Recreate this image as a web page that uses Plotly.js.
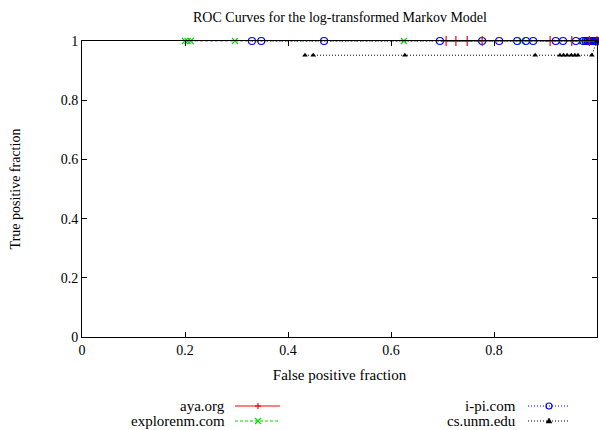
<!DOCTYPE html>
<html><head><meta charset="utf-8">
<script src="https://cdn.plot.ly/plotly-3.0.1.min.js"></script>
<style>html,body{margin:0;padding:0;background:#fff}</style>
</head><body>
<div id="chart" style="width:599px;height:430px"></div>
<script>
// Data
var ayaX = [0.707, 0.726, 0.748, 0.777, 0.909, 0.951, 0.985, 1.0];
var ayaY = [1, 1, 1, 1, 1, 1, 1, 1];
var exploreX = [0.200, 0.205, 0.211, 0.297, 0.625, 0.854, 0.971, 0.982, 0.991, 1.0];
var exploreY = [1, 1, 1, 1, 1, 1, 1, 1, 1, 1];
var ipiX = [0.330, 0.348, 0.470, 0.695, 0.777, 0.810, 0.845, 0.862, 0.876, 0.920, 0.934, 0.959, 0.973, 0.978, 0.982, 0.985, 0.988, 0.990, 0.992, 0.994, 0.996, 0.998, 1.0];
var ipiY = [1, 1, 1, 1, 1, 1, 1, 1, 1, 1, 1, 1, 1, 1, 1, 1, 1, 1, 1, 1, 1, 1, 1];
var csX = [0.433, 0.449, 0.627, 0.880, 0.928, 0.935, 0.942, 0.950, 0.957, 0.963, 0.990, 1.0];
var csY = [0.952, 0.952, 0.952, 0.952, 0.952, 0.952, 0.952, 0.952, 0.952, 0.952, 0.952, 1.0];
var seriesNames = ['aya.org', 'explorenm.com', 'i-pi.com', 'cs.unm.edu'];
var tickVals = [0, 0.2, 0.4, 0.6, 0.8, 1];
var tickText = ['0', '0.2', '0.4', '0.6', '0.8', '1'];

var FONT = '"Liberation Serif"';
var FS = 14;
var L = 82, R = 597, T = 41, B = 337;
function px2x(p){ return (p - L) / (R - L); }
function px2y(p){ return (B - p) / (B - T); }

var traces = [
  {x: exploreX, y: exploreY, name: seriesNames[1], mode: 'lines+markers', cliponaxis: false,
   line: {color: '#00dd00', width: 1, dash: '3px,2px'},
   marker: {symbol: 'x-thin-open', size: 6, color: '#00dd00', line: {color: '#00dd00', width: 1.2}}},
  {x: ipiX, y: ipiY, name: seriesNames[2], mode: 'lines+markers', cliponaxis: false,
   line: {color: '#0000ff', width: 1, dash: '1px,2px'},
   marker: {symbol: 'circle-open', size: 7, color: '#0000ff', line: {color: '#0000ff', width: 1.2}}},
  {x: ayaX, y: ayaY, name: seriesNames[0], mode: 'lines+markers', cliponaxis: false,
   line: {color: '#ff0000', width: 1},
   marker: {symbol: 'cross-thin-open', size: 7, color: '#ff0000', line: {color: '#ff0000', width: 1.2}}},
  {x: csX, y: csY, name: seriesNames[3], mode: 'lines+markers', cliponaxis: false,
   line: {color: '#000000', width: 1, dash: '1px,2px'},
   marker: {symbol: 'triangle-up', size: 5, color: '#000000'}}
];

// custom gnuplot-style legend (text left, sample right)
var shapes = [], annotations = [];
var rows = [
  {name: seriesNames[0], tx: 227, l0: 235, l1: 280, m: 258, y: 406, color: '#ff0000', dash: 'solid', sym: 'plus'},
  {name: seriesNames[1], tx: 227, l0: 235, l1: 280, m: 258, y: 421, color: '#00dd00', dash: '3px,2px', sym: 'x'},
  {name: seriesNames[2], tx: 518, l0: 528, l1: 570, m: 549, y: 406, color: '#0000ff', dash: '1px,2px', sym: 'circle'},
  {name: seriesNames[3], tx: 518, l0: 528, l1: 570, m: 549, y: 421, color: '#000000', dash: '1px,2px', sym: 'tri'}
];
rows.forEach(function(r){
  annotations.push({xref: 'paper', yref: 'paper', x: px2x(r.tx), y: px2y(r.y), xanchor: 'right', yanchor: 'middle',
    text: r.name, showarrow: false, font: {family: FONT, size: 15, color: '#000'}});
  shapes.push({type: 'line', xref: 'paper', yref: 'paper', x0: px2x(r.l0), x1: px2x(r.l1), y0: px2y(r.y), y1: px2y(r.y),
    line: {color: r.color, width: 1, dash: r.dash}});
  var s = 3;
  if (r.sym === 'plus') {
    shapes.push({type: 'line', xref: 'paper', yref: 'paper', x0: px2x(r.m), x1: px2x(r.m), y0: px2y(r.y - s), y1: px2y(r.y + s), line: {color: r.color, width: 1.2}});
    shapes.push({type: 'line', xref: 'paper', yref: 'paper', x0: px2x(r.m - s), x1: px2x(r.m + s), y0: px2y(r.y), y1: px2y(r.y), line: {color: r.color, width: 1.2}});
  } else if (r.sym === 'x') {
    shapes.push({type: 'line', xref: 'paper', yref: 'paper', x0: px2x(r.m - s), x1: px2x(r.m + s), y0: px2y(r.y - s), y1: px2y(r.y + s), line: {color: r.color, width: 1.2}});
    shapes.push({type: 'line', xref: 'paper', yref: 'paper', x0: px2x(r.m - s), x1: px2x(r.m + s), y0: px2y(r.y + s), y1: px2y(r.y - s), line: {color: r.color, width: 1.2}});
  } else if (r.sym === 'circle') {
    shapes.push({type: 'circle', xref: 'paper', yref: 'paper', x0: px2x(r.m - s), x1: px2x(r.m + s), y0: px2y(r.y - s), y1: px2y(r.y + s), line: {color: r.color, width: 1.2}});
  } else {
    var p = 'M ' + px2x(r.m - 3) + ',' + px2y(r.y + 2) + ' L ' + px2x(r.m + 3) + ',' + px2y(r.y + 2) + ' L ' + px2x(r.m) + ',' + px2y(r.y - 3) + ' Z';
    shapes.push({type: 'path', xref: 'paper', yref: 'paper', path: p, fillcolor: '#000', line: {color: '#000', width: 0.5}});
  }
});

var axisCommon = {
  range: [0, 1], autorange: false, tickvals: tickVals, ticktext: tickText,
  ticks: 'inside', ticklen: 5, tickwidth: 1, tickcolor: '#000',
  showline: true, linecolor: '#000', linewidth: 1, mirror: 'ticks',
  showgrid: false, zeroline: false, fixedrange: true,
  tickfont: {family: FONT, size: FS, color: '#000'}
};

var layout = {
  width: 599, height: 430,
  margin: {l: L, r: 599 - R, t: T, b: 430 - B, pad: 0},
  paper_bgcolor: '#fff', plot_bgcolor: '#fff',
  showlegend: false,
  font: {family: FONT, size: FS, color: '#000'},
  title: {text: 'ROC Curves for the log-transformed Markov Model', font: {family: FONT, size: FS, color: '#000'},
          x: (340) / 599, xanchor: 'center', y: 1 - 17 / 430, yanchor: 'middle'},
  xaxis: Object.assign({}, axisCommon, {title: {text: 'False positive fraction', font: {family: FONT, size: 15}, standoff: 12}}),
  yaxis: Object.assign({}, axisCommon, {title: {text: 'True positive fraction', font: {family: FONT, size: FS}, standoff: 36}}),
  shapes: shapes, annotations: annotations
};

Plotly.newPlot('chart', traces, layout, {staticPlot: true, displayModeBar: false});
</script>
</body></html>
